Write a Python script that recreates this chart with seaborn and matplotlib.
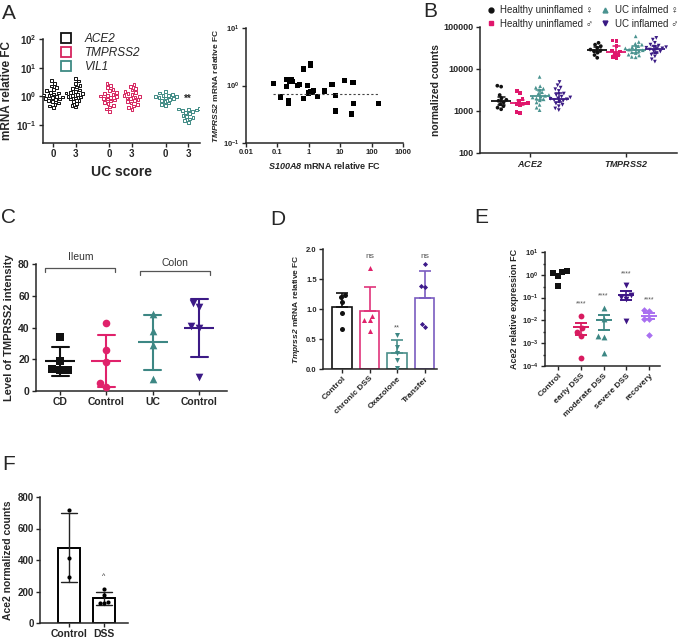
import numpy as np
import pandas as pd
import seaborn as sns
import matplotlib.pyplot as plt
from matplotlib.lines import Line2D
from matplotlib.ticker import NullLocator, LogLocator

# ---------------- data ----------------
# A (left): mRNA relative FC by UC score
a_genes = ['ACE2', 'TMPRSS2', 'VIL1']
a_scores = ['0', '3']
a_colors = ['#111111', '#d6245e', '#3e8a84']
ace2_uc0 = [3.5, 2.8, 2.3, 2.0, 1.75, 1.55, 1.4, 1.3, 1.2, 1.12, 1.05, 1.0, 0.95, 0.9, 0.85,
            0.8, 0.75, 0.7, 0.64, 0.58, 0.52, 0.46, 0.4]
ace2_uc3 = [4.2, 3.4, 2.8, 2.4, 2.1, 1.85, 1.65, 1.5, 1.4, 1.3, 1.22, 1.15, 1.08, 1.0, 0.94,
            0.88, 0.8, 0.72, 0.64, 0.56, 0.48, 0.42]
tmprss2_uc0 = [2.8, 2.4, 2.0, 1.75, 1.55, 1.4, 1.28, 1.18, 1.1, 1.03, 0.97, 0.92, 0.86, 0.8,
               0.74, 0.68, 0.62, 0.55, 0.48, 0.42, 0.36, 0.3]
tmprss2_uc3 = [2.6, 2.2, 1.9, 1.65, 1.48, 1.35, 1.24, 1.15, 1.07, 1.0, 0.94, 0.88, 0.82, 0.76,
               0.7, 0.64, 0.58, 0.52, 0.46, 0.4, 0.35]
vil1_uc0 = [1.5, 1.3, 1.18, 1.1, 1.05, 1.0, 0.96, 0.92, 0.88, 0.84, 0.78, 0.72, 0.65, 0.58,
            0.52, 0.48]
vil1_uc3 = [0.38, 0.36, 0.34, 0.33, 0.32, 0.3, 0.28, 0.25, 0.22, 0.2, 0.18, 0.16, 0.14, 0.12]

# A (right): TMPRSS2 vs S100A8
a2_s100a8 = [0.074, 0.126, 0.196, 0.2, 0.24, 0.27, 0.3, 0.23, 0.22, 0.44, 0.52, 0.69, 0.68,
             0.9, 0.95, 1.1, 1.13, 1.18, 1.3, 1.43, 1.89, 3.2, 5.5, 7.2, 6.9, 14, 25.5, 27,
             22.8, 170]
a2_tmprss2 = [1.08, 0.63, 1.26, 0.95, 1.16, 1.27, 1.16, 0.55, 0.48, 1.0, 1.04, 1.93, 0.6,
              1.0, 0.74, 2.39, 2.26, 0.79, 0.77, 0.82, 0.65, 0.8, 1.04, 0.67, 0.36, 1.21,
              1.13, 0.49, 0.32, 0.49]
a2_fit_level = 0.72

# B: normalized counts
b_genes = ['ACE2', 'TMPRSS2']
b_groups = ['Healthy uninflamed \u2640', 'Healthy uninflamed \u2642',
            'UC infalmed \u2640', 'UC inflamed \u2642']
b_colors = ['#111111', '#e0176c', '#4a9390', '#3a1a84']
b_markers = ['o', 's', '^', 'v']
b_ace2 = [
    [4000, 3800, 2400, 2000, 1850, 1750, 1600, 1450, 1300, 1200, 1100],
    [3000, 2700, 1900, 1700, 1550, 1500, 1450, 1400, 950, 900],
    [6500, 3900, 3600, 3400, 3200, 2800, 2600, 2400, 2300, 2200, 2100, 2000, 1900, 1800,
     1600, 1400, 1200, 1050],
    [4900, 4100, 3600, 3300, 3000, 2600, 2400, 2200, 2100, 2000, 1950, 1900, 1800, 1750,
     1650, 1500, 1400, 1300, 1150, 1050],
]
b_tmprss2 = [
    [42000, 38000, 35000, 32000, 29000, 28000, 26500, 24500, 21500, 18500],
    [48000, 47000, 35000, 27500, 26000, 23500, 21500, 19500, 18000],
    [60000, 44000, 40000, 38000, 35000, 33000, 31000, 30000, 29000, 28000, 27000, 25000,
     24000, 22000, 21000, 19500, 19000],
    [55000, 50000, 42000, 38000, 36000, 34000, 33000, 32000, 31000, 30000, 29000, 27000,
     26000, 24000, 22000, 20000, 17000, 15000],
]

# C: TMPRSS2 intensity
c_groups = ['CD', 'Ileum control', 'UC', 'Colon control']
c_ticklabels = ['CD', 'Control', 'UC', 'Control']
c_colors = ['#111111', '#e0226b', '#3d8784', '#3c1a86']
c_markers = ['s', 'o', '^', 'v']
c_values = [
    [34, 19, 14, 13, 13],
    [42.6, 25.7, 18.4, 5.3, 2.5],
    [48.5, 38, 29, 7.8],
    [55.7, 52.7, 41, 40, 8.9],
]

# D: Tmprss2 mRNA relative FC
d_groups = ['Control', 'chronic DSS', 'Oxazolone', 'Transfer']
d_bar_colors = ['#111111', '#e0337a', '#4a8f8a', '#7a5cc0']
d_pt_colors = ['#111111', '#e0226b', '#3d8784', '#3d1a8a']
d_markers = ['o', '^', 'v', 'D']
d_values = [
    [1.24, 1.2, 1.12, 0.94, 0.67],
    [1.68, 0.88, 0.81, 0.81, 0.63],
    [0.56, 0.37, 0.27, 0.15, 0.01],
    [1.75, 1.38, 1.37, 0.75, 0.70],
]
d_signif = ['', 'ns', '**', 'ns']

# E: Ace2 relative expression FC
e_groups = ['Control', 'early DSS', 'moderate DSS', 'severe DSS', 'recovery']
e_colors = ['#111111', '#d81b60', '#3d8784', '#3d1585', '#a970f0']
e_markers = ['s', 'o', '^', 'v', 'D']
e_values = [
    [1.5, 1.3, 1.2, 0.85, 0.33],
    [0.016, 0.0045, 0.0032, 0.0020, 0.00023],
    [0.036, 0.012, 0.0021, 0.0018, 0.00036],
    [0.34, 0.13, 0.11, 0.09, 0.0094],
    [0.028, 0.027, 0.012, 0.011, 0.0024],
]
e_signif_y = [None, 0.036, 0.087, 0.8, 0.056]

# F: Ace2 normalized counts
f_groups = ['Control', 'DSS']
f_values = [[720, 415, 295], [215, 180, 135, 125, 125]]

# ---------------- style ----------------
sns.set_theme(style='ticks')
plt.rcParams['font.family'] = ['Liberation Sans', 'DejaVu Sans']
plt.rcParams['mathtext.fontset'] = 'custom'
plt.rcParams['mathtext.rm'] = 'Liberation Sans'
plt.rcParams['mathtext.it'] = 'Liberation Sans:italic'
plt.rcParams['mathtext.bf'] = 'Liberation Sans:bold'
try:
    plt.rcParams['mathtext.bfit'] = 'Liberation Sans:italic:bold'
except KeyError:
    pass
plt.rcParams['axes.linewidth'] = 1.1
plt.rcParams['xtick.major.width'] = 1.0
plt.rcParams['ytick.major.width'] = 1.0

fig = plt.figure(figsize=(6.89, 6.39), dpi=100)


def box(l, t, r, b):
    return [l / 689, 1 - b / 639, (r - l) / 689, (b - t) / 639]


def finish(ax, fs):
    sns.despine(ax=ax)
    ax.tick_params(labelsize=fs, length=3, pad=1.5)
    for lab in ax.get_xticklabels() + ax.get_yticklabels():
        lab.set_fontweight('bold')


def log_labels(exps):
    return [r'$\mathbf{10^{%d}}$' % e for e in exps]


def long_df(groups, values, col):
    rows = [(g, v) for g, vals in zip(groups, values) for v in vals]
    return pd.DataFrame(rows, columns=['group', col])


# ---------------- A left ----------------
axA = fig.add_axes(box(43, 39, 200, 143))
axA.set_yscale('log')
a_series = [ace2_uc0, ace2_uc3, tmprss2_uc0, tmprss2_uc3, vil1_uc0, vil1_uc3]
rows = []
for i, vals in enumerate(a_series):
    for v in vals:
        rows.append((a_genes[i // 2], a_scores[i % 2], v))
dfA = pd.DataFrame(rows, columns=['gene', 'score', 'fc'])
for gene, col in zip(a_genes, a_colors):
    sns.swarmplot(data=dfA[dfA.gene == gene], x='gene', y='fc', hue='score',
                  order=a_genes, hue_order=a_scores, dodge=True,
                  palette=['white', 'white'], edgecolor=col, linewidth=0.7,
                  marker='s', size=2.0, legend=False, ax=axA)
axA.set_ylim(10 ** -1.63, 100)
axA.set_xlim(-0.38, 2.41)
axA.set_yticks([0.1, 1, 10, 100], log_labels([-1, 0, 1, 2]))
axA.yaxis.set_minor_locator(NullLocator())
axA.set_xticks([-0.2, 0.2, 0.8, 1.2, 1.8, 2.2], a_scores * 3)
axA.set_xlabel('UC score', fontsize=10, fontweight='bold', labelpad=4)
axA.set_ylabel('mRNA relative FC', fontsize=8.5, fontweight='bold', labelpad=2)
axA.text(2.2, 0.55, '**', ha='center', va='bottom', fontsize=7, fontweight='bold')
handles = [Line2D([], [], marker='s', ls='', mfc='white', mec=c, mew=1.3, ms=7) for c in a_colors]
axA.legend(handles, a_genes, loc='upper left', bbox_to_anchor=(0.04, 1.1), frameon=False,
           prop={'style': 'italic', 'size': 8.5}, handletextpad=0.6, labelspacing=0.15,
           borderaxespad=0)
finish(axA, 7)

# ---------------- A right ----------------
axA2 = fig.add_axes(box(246, 28, 403, 143))
sns.scatterplot(x=a2_s100a8, y=a2_tmprss2, marker='s', color='black', s=14,
                edgecolor='none', ax=axA2)
axA2.set_xscale('log')
axA2.set_yscale('log')
axA2.hlines(a2_fit_level, min(a2_s100a8), max(a2_s100a8), colors='#444444',
            linestyles=(0, (2, 2)), linewidth=0.8)
axA2.set_xlim(0.01, 1000)
axA2.set_ylim(0.1, 10)
axA2.set_xticks([0.01, 0.1, 1, 10, 100, 1000], ['0.01', '0.1', '1', '10', '100', '1000'])
axA2.set_yticks([0.1, 1, 10], log_labels([-1, 0, 1]))
axA2.xaxis.set_minor_locator(NullLocator())
axA2.yaxis.set_minor_locator(NullLocator())
axA2.set_xlabel(r'$\mathbfit{S100A8}$ mRNA relative FC', fontsize=6.5, fontweight='bold',
                labelpad=3)
axA2.set_ylabel(r'$\mathbfit{TMPRSS2}$ mRNA relative FC', fontsize=6, fontweight='bold',
                labelpad=2)
finish(axA2, 5.5)

# ---------------- B ----------------
axB = fig.add_axes(box(480, 27, 677, 153))
axB.set_yscale('log')
rows = []
for gene, series in zip(b_genes, [b_ace2, b_tmprss2]):
    for grp, vals in zip(b_groups, series):
        for v in vals:
            rows.append((gene, grp, v))
dfB = pd.DataFrame(rows, columns=['gene', 'group', 'count'])
b_pal = dict(zip(b_groups, b_colors))
for grp, m in zip(b_groups, b_markers):
    sns.swarmplot(data=dfB[dfB.group == grp], x='gene', y='count', hue='group',
                  order=b_genes, hue_order=b_groups, dodge=True, palette=b_pal,
                  marker=m, size=2.7, linewidth=0, legend=False, ax=axB)
sns.pointplot(data=dfB, x='gene', y='count', hue='group', order=b_genes,
              hue_order=b_groups, palette=b_pal, estimator='median',
              errorbar=('pi', 50), dodge=0.6, marker='_', markersize=14,
              markeredgewidth=1.3, linestyle='none', capsize=0.07,
              err_kws={'linewidth': 1.1}, legend=False, ax=axB)
axB.set_ylim(100, 100000)
axB.set_xlim(-0.52, 1.53)
axB.set_yticks([100, 1000, 10000, 100000], ['100', '1000', '10000', '100000'])
axB.yaxis.set_minor_locator(NullLocator())
axB.set_xticks([0, 1], [r'$\mathbfit{ACE2}$', r'$\mathbfit{TMPRSS2}$'])
axB.set_xlabel('')
axB.set_ylabel('normalized counts', fontsize=7.5, fontweight='bold', labelpad=2)
handles = [Line2D([], [], marker=m, ls='', color=c, ms=3.5) for m, c in zip(b_markers, b_colors)]
fig.legend(handles, b_groups, loc='upper left', bbox_to_anchor=(482 / 689, 0.998), ncol=2,
           frameon=False, fontsize=7, handlelength=1.0, handletextpad=0.5,
           columnspacing=0.7, labelspacing=0.35, borderaxespad=0)
finish(axB, 6.5)

# ---------------- C ----------------
axC = fig.add_axes(box(36, 264, 227, 391))
dfC = long_df(c_groups, c_values, 'level')
for grp, col, m in zip(c_groups, c_colors, c_markers):
    sns.swarmplot(data=dfC[dfC.group == grp], x='group', y='level', order=c_groups,
                  color=col, marker=m, size=5.5, linewidth=0, ax=axC)
sns.pointplot(data=dfC, x='group', y='level', hue='group', order=c_groups,
              hue_order=c_groups, palette=c_colors, errorbar='sd', marker='_',
              markersize=22, markeredgewidth=1.5, linestyle='none', capsize=0.37,
              err_kws={'linewidth': 1.5}, legend=False, ax=axC)
axC.set_ylim(0, 80)
axC.set_xlim(-0.52, 3.6)
axC.set_yticks([0, 20, 40, 60, 80])
axC.set_xticks(range(4), c_ticklabels)
axC.set_xlabel('')
axC.set_ylabel('Level of TMPRSS2 intensity', fontsize=8, fontweight='bold', labelpad=3)
for x0, x1, y, lab, ty in [(-0.32, 1.19, 77.5, 'Ileum', 81.5), (1.73, 3.24, 75.6, 'Colon', 77.5)]:
    axC.plot([x0, x0, x1, x1], [y - 2.5, y, y, y - 2.5], color='#555555', lw=0.9,
             clip_on=False)
    axC.text((x0 + x1) / 2, ty, lab, ha='center', va='bottom', fontsize=7.5,
             color='#333333', clip_on=False)
finish(axC, 7.5)

# ---------------- D ----------------
axD = fig.add_axes(box(323, 249, 437, 369))
dfD = long_df(d_groups, d_values, 'fc')
sns.barplot(data=dfD, x='group', y='fc', hue='group', order=d_groups, hue_order=d_groups,
            palette=d_bar_colors, fill=False, errorbar=None, width=0.7, linewidth=1.2,
            legend=False, ax=axD)
statsD = dfD.groupby('group')['fc'].agg(['mean', 'std']).reindex(d_groups)
for i, (grp, row) in enumerate(statsD.iterrows()):
    axD.errorbar(i, row['mean'], yerr=[[0], [row['std']]], fmt='none',
                 ecolor=d_bar_colors[i], elinewidth=1.2, capsize=4.5, capthick=1.2)
for grp, col, m in zip(d_groups, d_pt_colors, d_markers):
    sns.swarmplot(data=dfD[dfD.group == grp], x='group', y='fc', order=d_groups,
                  color=col, marker=m, size=3.6 if m != 'D' else 2.6, linewidth=0, ax=axD)
for i, s in enumerate(d_signif):
    if s:
        axD.text(i, 1.82 if s == 'ns' else 0.62, s, ha='center', va='bottom',
                 fontsize=6 if s == 'ns' else 5.5, color='#555555')
axD.set_ylim(0, 2.0)
axD.set_xlim(-0.69, 3.45)
axD.set_yticks([0, 0.5, 1.0, 1.5, 2.0], ['0.0', '0.5', '1.0', '1.5', '2.0'])
axD.set_xticks(range(4), d_groups, rotation=45, ha='right', rotation_mode='anchor')
axD.set_xlabel('')
axD.set_ylabel(r'$\mathbfit{Tmprss2}$ mRNA relative FC', fontsize=6, fontweight='bold',
               labelpad=3)
finish(axD, 5.5)
axD.tick_params(axis='x', labelsize=6)

# ---------------- E ----------------
axE = fig.add_axes(box(545, 252, 660, 366))
axE.set_yscale('log')
dfE = long_df(e_groups, e_values, 'fc')
for grp, col, m in zip(e_groups, e_colors, e_markers):
    sns.swarmplot(data=dfE[dfE.group == grp], x='group', y='fc', order=e_groups,
                  color=col, marker=m, size=4.2 if m != 'D' else 3.4, linewidth=0, ax=axE)
statsE = dfE.groupby('group')['fc'].agg(['mean', 'sem']).reindex(e_groups)
for i, (grp, row) in enumerate(statsE.iterrows()):
    if i == 0:
        continue
    axE.errorbar(i, row['mean'], yerr=row['sem'], fmt='_', ms=11, mew=1.4,
                 color=e_colors[i], elinewidth=1.2, capsize=4.5, capthick=1.2)
for i, y in enumerate(e_signif_y):
    if y:
        axE.text(i, y, '****', ha='center', va='bottom', fontsize=5, color='#555555')
axE.set_ylim(1e-4, 10)
axE.set_xlim(-0.57, 4.48)
axE.set_yticks([1e-4, 1e-3, 1e-2, 1e-1, 1, 10], log_labels([-4, -3, -2, -1, 0, 1]))
axE.yaxis.set_minor_locator(LogLocator(subs=(3.0,)))
axE.tick_params(axis='y', which='minor', length=1.5)
axE.set_xticks(range(5), e_groups, rotation=45, ha='right', rotation_mode='anchor')
axE.set_xlabel('')
axE.set_ylabel('Ace2 relative expression FC', fontsize=6.5, fontweight='bold', labelpad=2)
finish(axE, 5.5)
axE.tick_params(axis='x', labelsize=6)

# ---------------- F ----------------
axF = fig.add_axes(box(40, 497, 128, 623))
dfF = long_df(f_groups, f_values, 'counts')
sns.barplot(data=dfF, x='group', y='counts', order=f_groups, color='black', fill=False,
            errorbar='sd', capsize=0.45, width=0.62, linewidth=1.4,
            err_kws={'linewidth': 1.0, 'color': '#222222'}, ax=axF)
sns.swarmplot(data=dfF, x='group', y='counts', order=f_groups, color='black', size=3,
              linewidth=0, ax=axF)
axF.text(1, 275, '^', ha='center', va='bottom', fontsize=5)
axF.set_ylim(0, 800)
axF.set_xlim(-0.83, 1.69)
axF.set_yticks([0, 200, 400, 600, 800])
axF.set_xlabel('')
axF.set_ylabel('Ace2 normalized counts', fontsize=7.5, fontweight='bold', labelpad=3)
finish(axF, 7)
axF.tick_params(axis='x', labelsize=7.5)

# ---------------- panel letters ----------------
for lab, x, y in [('A', 2, 4), ('B', 423, 2), ('C', 1, 208), ('D', 270, 210),
                  ('E', 474, 208), ('F', 2, 455)]:
    fig.text(x / 689, 1 - y / 639, lab, fontsize=15, ha='left', va='top')

fig.savefig('out.png', dpi=100)
